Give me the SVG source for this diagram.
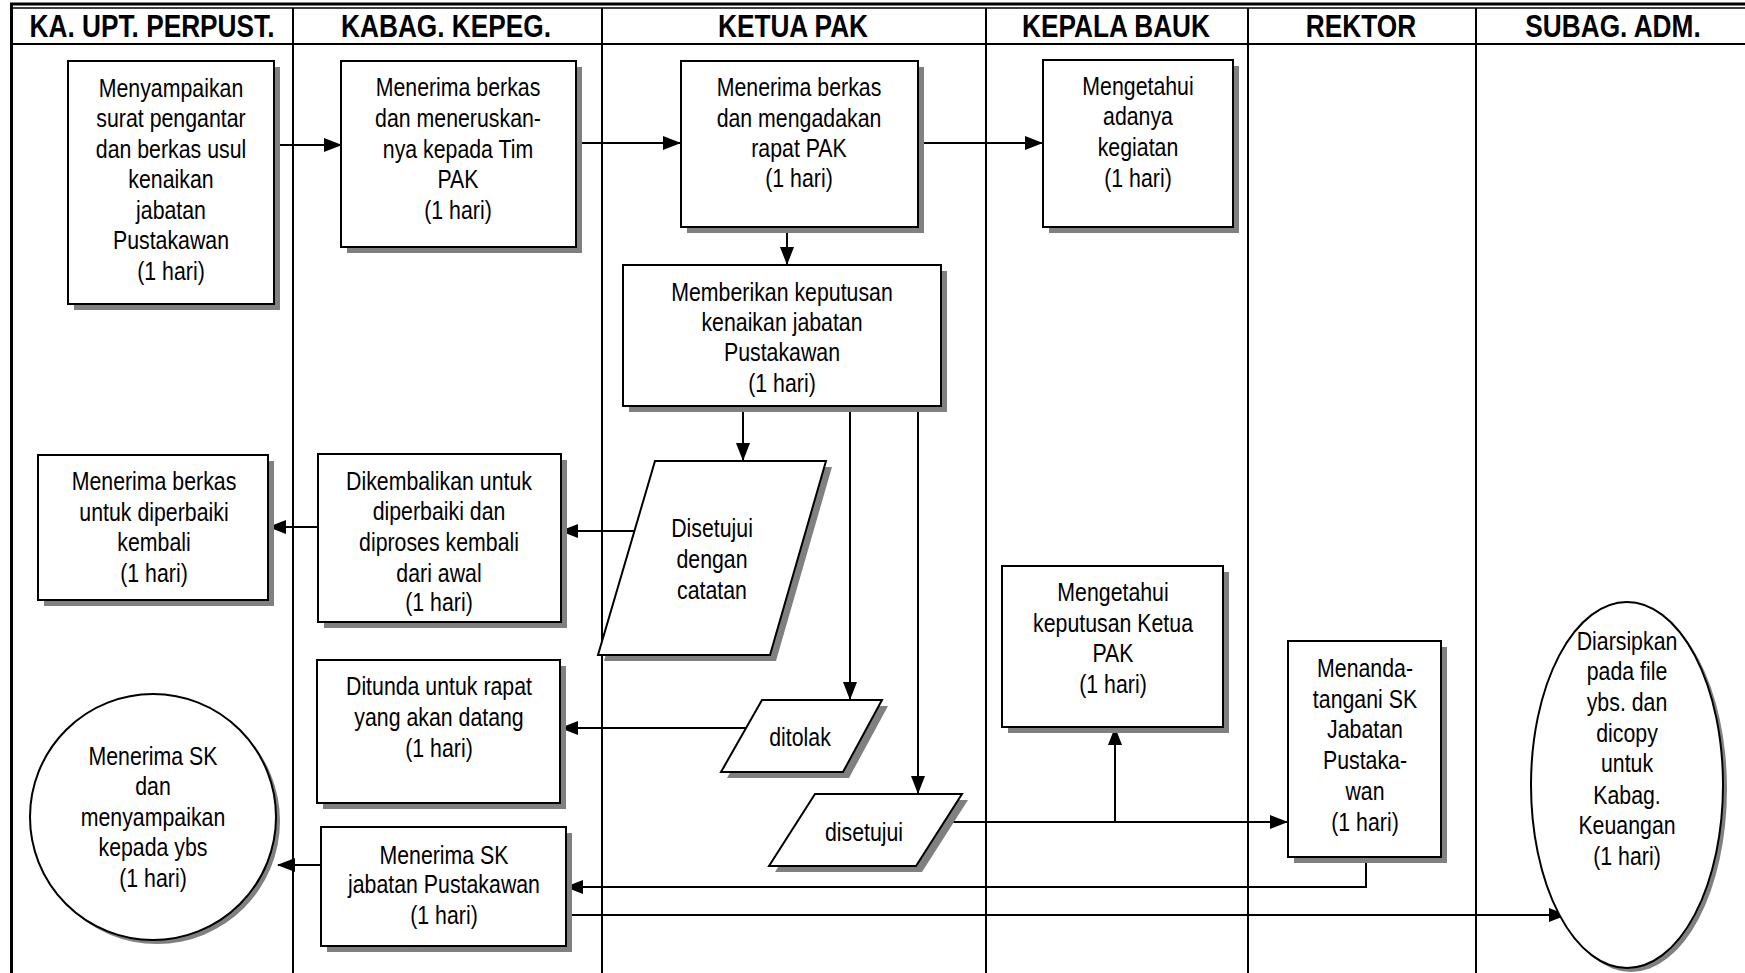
<svg xmlns="http://www.w3.org/2000/svg" width="1745" height="973" viewBox="0 0 1745 973">
<defs>
<style>
.box{fill:#fff;stroke:#000;stroke-width:2}
.sh{fill:#808080;stroke:none}
.ln{stroke:#000;stroke-width:2;fill:none}
.cn{stroke:#000;stroke-width:2;fill:none;marker-end:url(#ah)}
.t{font-family:'Liberation Sans',Arial,sans-serif;font-size:26px;text-anchor:middle;fill:#000}
.h{font-family:'Liberation Sans',Arial,sans-serif;font-size:32px;font-weight:bold;text-anchor:middle;fill:#000}
</style>
<marker id="ah" markerWidth="18" markerHeight="16" refX="17" refY="8" orient="auto" markerUnits="userSpaceOnUse"><path d="M0,1 L18,8 L0,15 z" fill="#000"/></marker>
</defs>
<rect width="1745" height="973" fill="#fff"/>
<g id="frame">
<line x1="10" y1="4" x2="1745" y2="4" stroke="#000" stroke-width="3"/>
<line x1="10" y1="8" x2="1745" y2="8" stroke="#000" stroke-width="1.5"/>
<line x1="11" y1="44" x2="1745" y2="44" stroke="#000" stroke-width="2"/>
<line x1="11.5" y1="3" x2="11.5" y2="973" stroke="#000" stroke-width="3"/>
<line class="ln" x1="293" y1="8" x2="293" y2="973"/>
<line class="ln" x1="602" y1="8" x2="602" y2="973"/>
<line class="ln" x1="986" y1="8" x2="986" y2="973"/>
<line class="ln" x1="1248" y1="8" x2="1248" y2="973"/>
<line class="ln" x1="1476" y1="8" x2="1476" y2="973"/>
<g transform="translate(152 0) scale(0.82 1)"><text class="h" x="0" y="37">KA. UPT. PERPUST.</text></g>
<g transform="translate(446 0) scale(0.82 1)"><text class="h" x="0" y="37">KABAG. KEPEG.</text></g>
<g transform="translate(793 0) scale(0.82 1)"><text class="h" x="0" y="37">KETUA PAK</text></g>
<g transform="translate(1116 0) scale(0.82 1)"><text class="h" x="0" y="37">KEPALA BAUK</text></g>
<g transform="translate(1361 0) scale(0.82 1)"><text class="h" x="0" y="37">REKTOR</text></g>
<g transform="translate(1613 0) scale(0.82 1)"><text class="h" x="0" y="37">SUBAG. ADM.</text></g>
</g>
<g id="connectors">
<path class="cn" d="M274,145 H341"/>
<path class="cn" d="M576,143 H680"/>
<path class="cn" d="M919,143 H1042"/>
<path class="cn" d="M787,227 V264"/>
<path class="cn" d="M743,406 V460"/>
<path class="cn" d="M850,406 V699"/>
<path class="cn" d="M918,406 V793"/>
<path class="cn" d="M634,531 H561"/>
<path class="cn" d="M318,527 H269"/>
<path class="cn" d="M746,728 H561"/>
<path class="cn" d="M946,822 H1287"/>
<path class="cn" d="M1115,822 V728"/>
<path class="cn" d="M1366,862 V887 H566"/>
<path class="cn" d="M566,915 H1566"/>
<path class="cn" d="M323,865 H278"/>
</g>
<g id="n1">
<rect class="sh" x="74" y="67" width="206" height="243"/>
<rect class="box" x="68" y="61" width="206" height="243"/>
<g transform="translate(171 0) scale(0.82 1)">
<text class="t" x="0" y="97">Menyampaikan</text>
<text class="t" x="0" y="127.5">surat pengantar</text>
<text class="t" x="0" y="158">dan berkas usul</text>
<text class="t" x="0" y="188.5">kenaikan</text>
<text class="t" x="0" y="219">jabatan</text>
<text class="t" x="0" y="249.5">Pustakawan</text>
<text class="t" x="0" y="280">(1 hari)</text>
</g>
</g>
<g id="n2">
<rect class="sh" x="347" y="67" width="235" height="186"/>
<rect class="box" x="341" y="61" width="235" height="186"/>
<g transform="translate(458 0) scale(0.82 1)">
<text class="t" x="0" y="96">Menerima berkas</text>
<text class="t" x="0" y="127">dan meneruskan-</text>
<text class="t" x="0" y="158">nya kepada Tim</text>
<text class="t" x="0" y="188">PAK</text>
<text class="t" x="0" y="219">(1 hari)</text>
</g>
</g>
<g id="n3">
<rect class="sh" x="687" y="67" width="237" height="166"/>
<rect class="box" x="681" y="61" width="237" height="166"/>
<g transform="translate(799 0) scale(0.82 1)">
<text class="t" x="0" y="96">Menerima berkas</text>
<text class="t" x="0" y="127">dan mengadakan</text>
<text class="t" x="0" y="157">rapat PAK</text>
<text class="t" x="0" y="187">(1 hari)</text>
</g>
</g>
<g id="n4">
<rect class="sh" x="1049" y="66" width="190" height="167"/>
<rect class="box" x="1043" y="60" width="190" height="167"/>
<g transform="translate(1138 0) scale(0.82 1)">
<text class="t" x="0" y="95">Mengetahui</text>
<text class="t" x="0" y="125">adanya</text>
<text class="t" x="0" y="156">kegiatan</text>
<text class="t" x="0" y="187">(1 hari)</text>
</g>
</g>
<g id="n5">
<rect class="sh" x="629" y="271" width="318" height="141"/>
<rect class="box" x="623" y="265" width="318" height="141"/>
<g transform="translate(782 0) scale(0.82 1)">
<text class="t" x="0" y="301">Memberikan keputusan</text>
<text class="t" x="0" y="331">kenaikan jabatan</text>
<text class="t" x="0" y="361">Pustakawan</text>
<text class="t" x="0" y="392">(1 hari)</text>
</g>
</g>
<g id="n6">
<polygon class="sh" points="661,467 832,467 776,661 604,661"/>
<polygon class="box" points="655,461 826,461 770,655 598,655"/>
<g transform="translate(712 0) scale(0.82 1)">
<text class="t" x="0" y="537">Disetujui</text>
<text class="t" x="0" y="568">dengan</text>
<text class="t" x="0" y="599">catatan</text>
</g>
</g>
<g id="n7">
<rect class="sh" x="324" y="460" width="243" height="168"/>
<rect class="box" x="318" y="454" width="243" height="168"/>
<g transform="translate(439 0) scale(0.82 1)">
<text class="t" x="0" y="490">Dikembalikan untuk</text>
<text class="t" x="0" y="520">diperbaiki dan</text>
<text class="t" x="0" y="551">diproses kembali</text>
<text class="t" x="0" y="582">dari awal</text>
<text class="t" x="0" y="611">(1 hari)</text>
</g>
</g>
<g id="n8">
<rect class="sh" x="44" y="461" width="230" height="145"/>
<rect class="box" x="38" y="455" width="230" height="145"/>
<g transform="translate(154 0) scale(0.82 1)">
<text class="t" x="0" y="490">Menerima berkas</text>
<text class="t" x="0" y="521">untuk diperbaiki</text>
<text class="t" x="0" y="551">kembali</text>
<text class="t" x="0" y="582">(1 hari)</text>
</g>
</g>
<g id="n9">
<rect class="sh" x="323" y="666" width="243" height="143"/>
<rect class="box" x="317" y="660" width="243" height="143"/>
<g transform="translate(439 0) scale(0.82 1)">
<text class="t" x="0" y="695">Ditunda untuk rapat</text>
<text class="t" x="0" y="726">yang akan datang</text>
<text class="t" x="0" y="757">(1 hari)</text>
</g>
</g>
<g id="n10">
<polygon class="sh" points="768,706 888,706 849,778 727,778"/>
<polygon class="box" points="762,700 882,700 843,772 721,772"/>
<g transform="translate(800 0) scale(0.82 1)">
<text class="t" x="0" y="746">ditolak</text>
</g>
</g>
<g id="n11">
<polygon class="sh" points="821,800 968,800 922,872 775,872"/>
<polygon class="box" points="815,794 962,794 916,866 769,866"/>
<g transform="translate(864 0) scale(0.82 1)">
<text class="t" x="0" y="841">disetujui</text>
</g>
</g>
<g id="n12">
<rect class="sh" x="1008" y="572" width="221" height="161"/>
<rect class="box" x="1002" y="566" width="221" height="161"/>
<g transform="translate(1113 0) scale(0.82 1)">
<text class="t" x="0" y="601">Mengetahui</text>
<text class="t" x="0" y="632">keputusan Ketua</text>
<text class="t" x="0" y="662">PAK</text>
<text class="t" x="0" y="693">(1 hari)</text>
</g>
</g>
<g id="n13">
<rect class="sh" x="1294" y="647" width="153" height="216"/>
<rect class="box" x="1288" y="641" width="153" height="216"/>
<g transform="translate(1365 0) scale(0.82 1)">
<text class="t" x="0" y="677">Menanda-</text>
<text class="t" x="0" y="708">tangani SK</text>
<text class="t" x="0" y="738">Jabatan</text>
<text class="t" x="0" y="769">Pustaka-</text>
<text class="t" x="0" y="800">wan</text>
<text class="t" x="0" y="831">(1 hari)</text>
</g>
</g>
<g id="n14">
<circle class="sh" cx="157" cy="821" r="123"/>
<circle class="box" cx="153" cy="817" r="123"/>
<g transform="translate(153 0) scale(0.82 1)">
<text class="t" x="0" y="765">Menerima SK</text>
<text class="t" x="0" y="795">dan</text>
<text class="t" x="0" y="826">menyampaikan</text>
<text class="t" x="0" y="856">kepada ybs</text>
<text class="t" x="0" y="887">(1 hari)</text>
</g>
</g>
<g id="n15">
<rect class="sh" x="327" y="833" width="245" height="119"/>
<rect class="box" x="321" y="827" width="245" height="119"/>
<g transform="translate(444 0) scale(0.82 1)">
<text class="t" x="0" y="864">Menerima SK</text>
<text class="t" x="0" y="893">jabatan Pustakawan</text>
<text class="t" x="0" y="924">(1 hari)</text>
</g>
</g>
<g id="n16">
<ellipse class="sh" cx="1631" cy="789" rx="96" ry="183"/>
<ellipse class="box" cx="1627" cy="785" rx="96" ry="183"/>
<g transform="translate(1627 0) scale(0.82 1)">
<text class="t" x="0" y="650">Diarsipkan</text>
<text class="t" x="0" y="680">pada file</text>
<text class="t" x="0" y="711">ybs. dan</text>
<text class="t" x="0" y="742">dicopy</text>
<text class="t" x="0" y="772">untuk</text>
<text class="t" x="0" y="804">Kabag.</text>
<text class="t" x="0" y="834">Keuangan</text>
<text class="t" x="0" y="865">(1 hari)</text>
</g>
</g>
</svg>
